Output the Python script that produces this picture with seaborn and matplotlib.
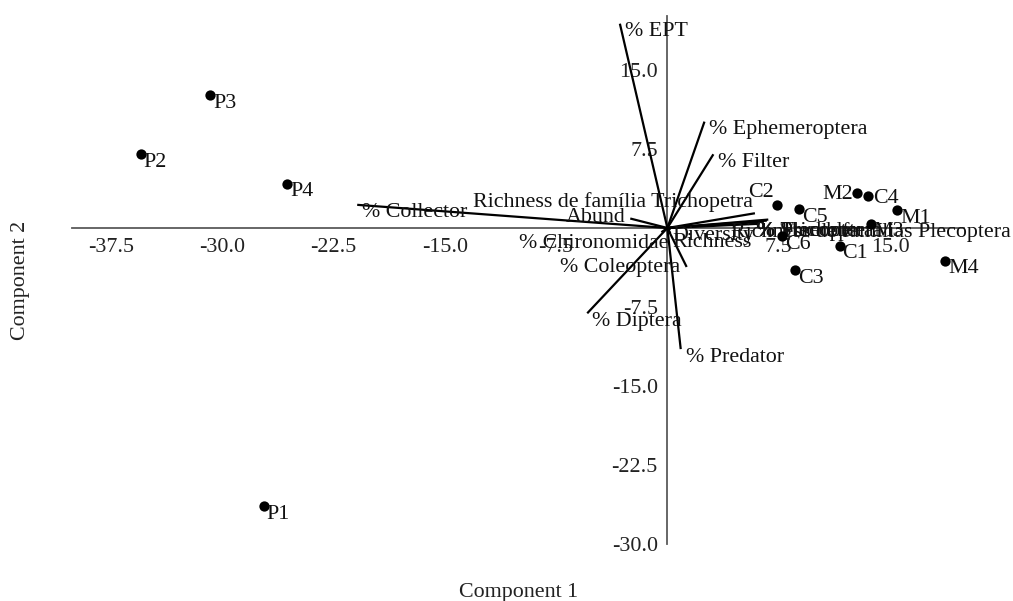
"""
PCA biplot — sites (P, C, M) and macroinvertebrate metrics as loading vectors.
"""
import numpy as np
import pandas as pd
import matplotlib.pyplot as plt
import seaborn as sns

sns.set_theme(style="white")
plt.rcParams["font.family"] = ["Liberation Serif", "DejaVu Serif"]

# site scores (component 1, component 2)
SITES = ["P1", "P2", "P3", "P4", "C1", "C2", "C3", "C4", "C5", "C6",
         "M1", "M2", "M3", "M4"]
PC1 = [-27.2, -35.5, -30.8, -25.6, 11.6, 7.4, 8.6, 13.5, 8.9, 7.7,
       15.5, 12.8, 13.7, 18.7]
PC2 = [-26.4, 7.0, 12.6, 4.2, -1.7, 2.2, -4.0, 3.0, 1.8, -0.8,
       1.7, 3.3, 0.4, -3.1]

# loading vectors (scaled to the score axes)
VARS = ["% EPT", "% Ephemeroptera", "% Filter", "% Collector",
        "Richness de família Trichopetra", "Abund", "% Chironomidae",
        "% Coleoptera", "% Diptera", "% Predator", "Diversity", "Richness",
        "% Shredder", "% Plecoptera", "% Trichoptera",
        "Richness de famílias Plecoptera"]
LOAD1 = [-3.2, 2.5, 3.1, -20.9, 5.9, -2.5, -0.4, 1.3, -5.4, 0.9, 0.2, 0.2,
         6.2, 6.5, 6.8, 6.7]
LOAD2 = [19.4, 10.1, 7.0, 2.2, 1.4, 0.9, -0.4, -3.7, -8.1, -11.5, -0.2, -0.5,
         0.4, 0.6, 0.8, 0.7]

# label placement: (dx, dy) in pixels from the mark, horizontal alignment
SITE_LBL = {"C2": (-3, 12, "right"), "M2": (-4, -1, "right"),
            "C4": (5, -2, "left")}
VAR_LBL = {
    "Richness de família Trichopetra": (-2, 11, "right"),
    "Abund": (-5, 1, "right"),
    "% Chironomidae": (7, -11, "right"),
    "% Coleoptera": (-7, -1, "right"),
    "Diversity": (2, -5, "left"),
    "Richness": (2, -9, "left"),
    "% Shredder": (-3, -8, "left"),
    "% Plecoptera": (-7, -10, "left"),
    "% Trichoptera": (-11, -12, "left"),
    "Richness de famílias Plecoptera": (244, -11, "right"),
}

sites = pd.DataFrame({"site": SITES, "pc1": PC1, "pc2": PC2})
load = pd.DataFrame({"var": VARS, "pc1": LOAD1, "pc2": LOAD2})

FS = 15.8
AXC = "#5a5a5a"

fig = plt.figure(figsize=(10.13, 6.01), dpi=100)
ax = fig.add_axes([0, 0, 1, 1])
ax.set_xlim(-44.97, 23.29)
ax.set_ylim(-35.42, 21.65)

# axes crossing at the origin
for side in ["top", "right"]:
    ax.spines[side].set_visible(False)
ax.spines["left"].set_position(("data", 0))
ax.spines["bottom"].set_position(("data", 0))
ax.spines["bottom"].set_bounds(-40.1, 20.0)
ax.spines["left"].set_bounds(-30.0, 20.1)
for side in ["left", "bottom"]:
    ax.spines[side].set_color(AXC)
    ax.spines[side].set_linewidth(1.3)
ax.set_xticks([-37.5, -30.0, -22.5, -15.0, -7.5, 7.5, 15.0])
ax.set_yticks([-30.0, -22.5, -15.0, -7.5, 7.5, 15.0])
ax.xaxis.set_major_formatter(plt.FormatStrFormatter("%.1f"))
ax.yaxis.set_major_formatter(plt.FormatStrFormatter("%.1f"))
ax.tick_params(direction="out", length=4, width=1.2, color=AXC,
               labelsize=FS, pad=3, labelcolor="#222222")
ax.grid(False)

# loading vectors
for _, r in load.iterrows():
    ax.plot([0, r.pc1], [0, r.pc2], color="black", lw=1.6,
            solid_capstyle="butt", zorder=3)
    dx, dy, ha = VAR_LBL.get(r["var"], (5, -8, "left"))
    ax.annotate(r["var"], (r.pc1, r.pc2), xytext=(dx, dy),
                textcoords="offset pixels", ha=ha, va="center",
                fontsize=FS, color="#111111", zorder=4)

# site scores
sns.scatterplot(data=sites, x="pc1", y="pc2", color="black", s=55,
                edgecolor="black", linewidth=0, ax=ax, zorder=5, legend=False)
for _, r in sites.iterrows():
    dx, dy, ha = SITE_LBL.get(r["site"], (3, -8, "left"))
    ax.annotate(r["site"], (r.pc1, r.pc2), xytext=(dx, dy),
                textcoords="offset pixels", ha=ha, va="center",
                fontsize=FS, color="#111111", zorder=6)
ax.set_xlabel("")
ax.set_ylabel("")

fig.text(519 / 1013, 1 - 593 / 601, "Component 1", ha="center", va="center",
         fontsize=FS, color="#222222")
fig.text(20 / 1013, 1 - 280 / 601, "Component 2", ha="center", va="center",
         rotation=90, fontsize=FS, color="#222222")

fig.savefig("out.png", dpi=100)
